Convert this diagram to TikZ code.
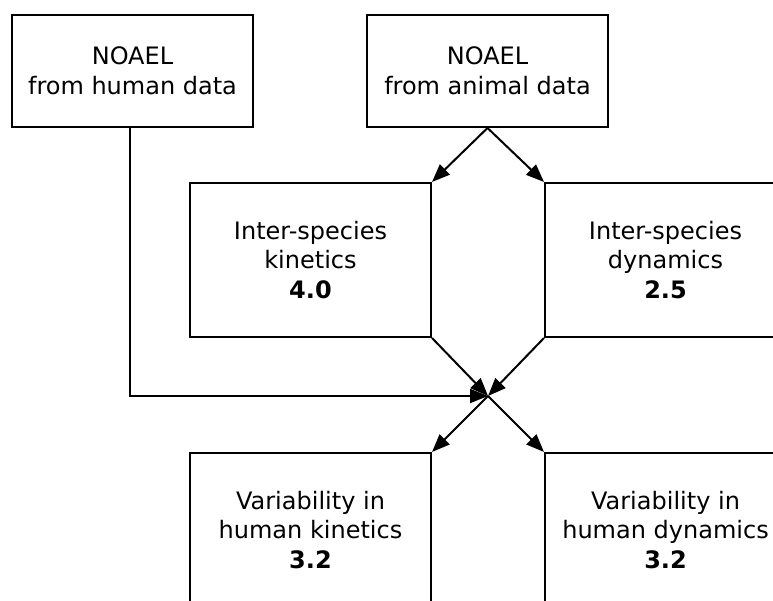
\documentclass[tikz,border=0pt]{standalone}
\usepackage{fontspec}
\setmainfont{DejaVu Sans}
\usetikzlibrary{arrows.meta}
\begin{document}
\begin{tikzpicture}[x=1pt,y=-1pt,
  box/.style={draw,line width=2pt,inner sep=0pt,align=center,
    font=\fontsize{24}{29.5}\selectfont},
  topbox/.style={box,minimum width=241pt,minimum height=112pt},
  midbox/.style={box,minimum width=241pt,minimum height=154pt},
  conn/.style={line width=2pt,-{Triangle[length=18pt,width=14pt]}}]
\useasboundingbox (0,0) rectangle (773,601);
\clip (0,0) rectangle (773,601);
\node[topbox] (A) at (132.5,71) {NOAEL\\from human data};
\node[topbox] (B) at (487.5,71) {NOAEL\\from animal data};
\node[midbox] (K) at (310.5,260) {Inter-species\\kinetics\\\textbf{4.0}};
\node[midbox] (D) at (665.5,260) {Inter-species\\dynamics\\\textbf{2.5}};
\node[midbox] (HK) at (310.5,530) {Variability in\\human kinetics\\\textbf{3.2}};
\node[midbox] (HD) at (665.5,530) {Variability in\\human dynamics\\\textbf{3.2}};
\coordinate (X) at (488,396);
\draw[conn] (B.south) -- (K.north east);
\draw[conn] (B.south) -- (D.north west);
\draw[conn] (K.south east) -- (X);
\draw[conn] (D.south west) -- (X);
\draw[conn] ([xshift=-3pt]A.south) |- (X);
\draw[conn] (X) -- (HK.north east);
\draw[conn] (X) -- (HD.north west);
\end{tikzpicture}
\end{document}
